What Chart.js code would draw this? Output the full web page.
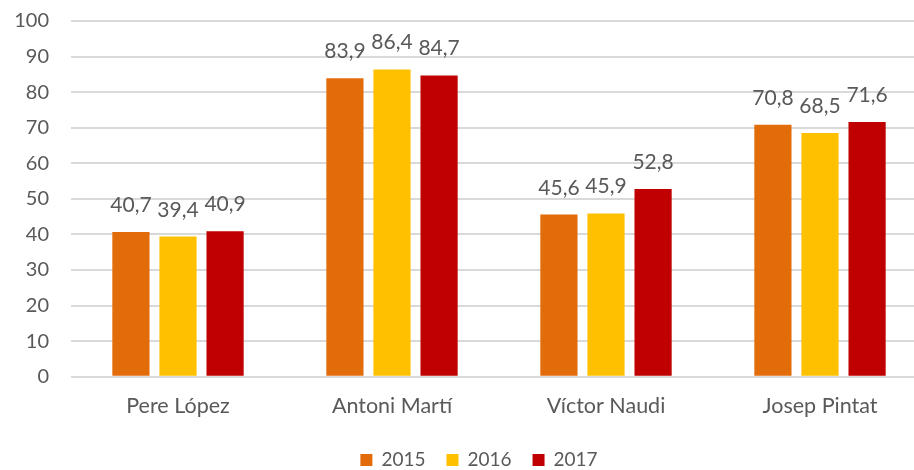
<!DOCTYPE html>
<html>
<head>
<meta charset="utf-8">
<script src="https://cdn.jsdelivr.net/npm/chart.js@4"></script>
<style>
html,body{margin:0;padding:0;background:#fff;overflow:hidden;width:914px;height:470px;}
#wrap{position:relative;width:990px;height:470px;}
</style>
</head>
<body>
<div id="wrap"><canvas id="c" width="990" height="470"></canvas></div>
<script>
const categories = ["Pere López", "Antoni Martí", "Víctor Naudi", "Josep Pintat"];
const seriesNames = ["2015", "2016", "2017"];
const values2015 = [40.7, 83.9, 45.6, 70.8];
const values2016 = [39.4, 86.4, 45.9, 68.5];
const values2017 = [40.9, 84.7, 52.8, 71.6];
const yTicks = [0, 10, 20, 30, 40, 50, 60, 70, 80, 90, 100];
const colors = ["#E36C0A", "#FFC000", "#C00000"];

const FONT = "Lato, 'Open Sans', sans-serif";
const TXT = "#595959";

const labelPlugin = {
  id: 'valueLabels',
  afterDatasetsDraw(chart) {
    const ctx = chart.ctx;
    ctx.save();
    ctx.font = "21px " + FONT;
    ctx.fillStyle = TXT;
    ctx.textAlign = "center";
    ctx.textBaseline = "alphabetic";
    chart.data.datasets.forEach((ds, i) => {
      const meta = chart.getDatasetMeta(i);
      meta.data.forEach((bar, j) => {
        const txt = ds.data[j].toFixed(1).replace('.', ',');
        ctx.fillText(txt, bar.x, bar.y - 20);
      });
    });
    ctx.restore();
  }
};

const legendPlugin = {
  id: 'customLegend',
  afterDraw(chart) {
    const ctx = chart.ctx;
    ctx.save();
    ctx.font = "19px " + FONT;
    const box = 12, gapText = 9, gapItem = 21;
    const items = chart.data.datasets.map(ds => ({ label: ds.label, color: ds.backgroundColor, w: ctx.measureText(ds.label).width }));
    let total = 0;
    items.forEach((it, i) => { total += box + gapText + it.w + (i < items.length - 1 ? gapItem : 0); });
    const cx = 479, cy = 460;
    let x = cx - total / 2;
    ctx.textBaseline = "middle";
    ctx.textAlign = "left";
    items.forEach(it => {
      ctx.fillStyle = it.color;
      ctx.fillRect(x, cy - box / 2, box, box);
      x += box + gapText;
      ctx.fillStyle = TXT;
      ctx.fillText(it.label, x, cy);
      x += it.w + gapItem;
    });
    ctx.restore();
  }
};

new Chart(document.getElementById('c'), {
  type: 'bar',
  data: {
    labels: categories,
    datasets: [
      { label: seriesNames[0], data: values2015, backgroundColor: colors[0] },
      { label: seriesNames[1], data: values2016, backgroundColor: colors[1] },
      { label: seriesNames[2], data: values2017, backgroundColor: colors[2] }
    ]
  },
  options: {
    responsive: false,
    animation: false,
    devicePixelRatio: 1,
    layout: { padding: { top: 21, right: 63, left: 0, bottom: 35.5 } },
    datasets: { bar: { categoryPercentage: 0.66, barPercentage: 0.79 } },
    scales: {
      x: {
        grid: { display: false, drawTicks: false },
        border: { display: false },
        ticks: { color: TXT, font: { family: FONT, size: 21.5 }, padding: 16 }
      },
      y: {
        min: 0, max: 100,
        afterBuildTicks(scale) { scale.ticks = yTicks.map(v => ({ value: v })); },
        afterFit(scale) { scale.width = 71; scale.paddingTop = 0; scale.paddingBottom = 0; },
        grid: { color: "#D9D9D9", lineWidth: 2, drawTicks: false },
        border: { display: false },
        ticks: { color: TXT, font: { family: FONT, size: 20 }, padding: 22 }
      }
    },
    plugins: {
      legend: { display: false },
      tooltip: { enabled: false }
    }
  },
  plugins: [labelPlugin, legendPlugin]
});
</script>
</body>
</html>
